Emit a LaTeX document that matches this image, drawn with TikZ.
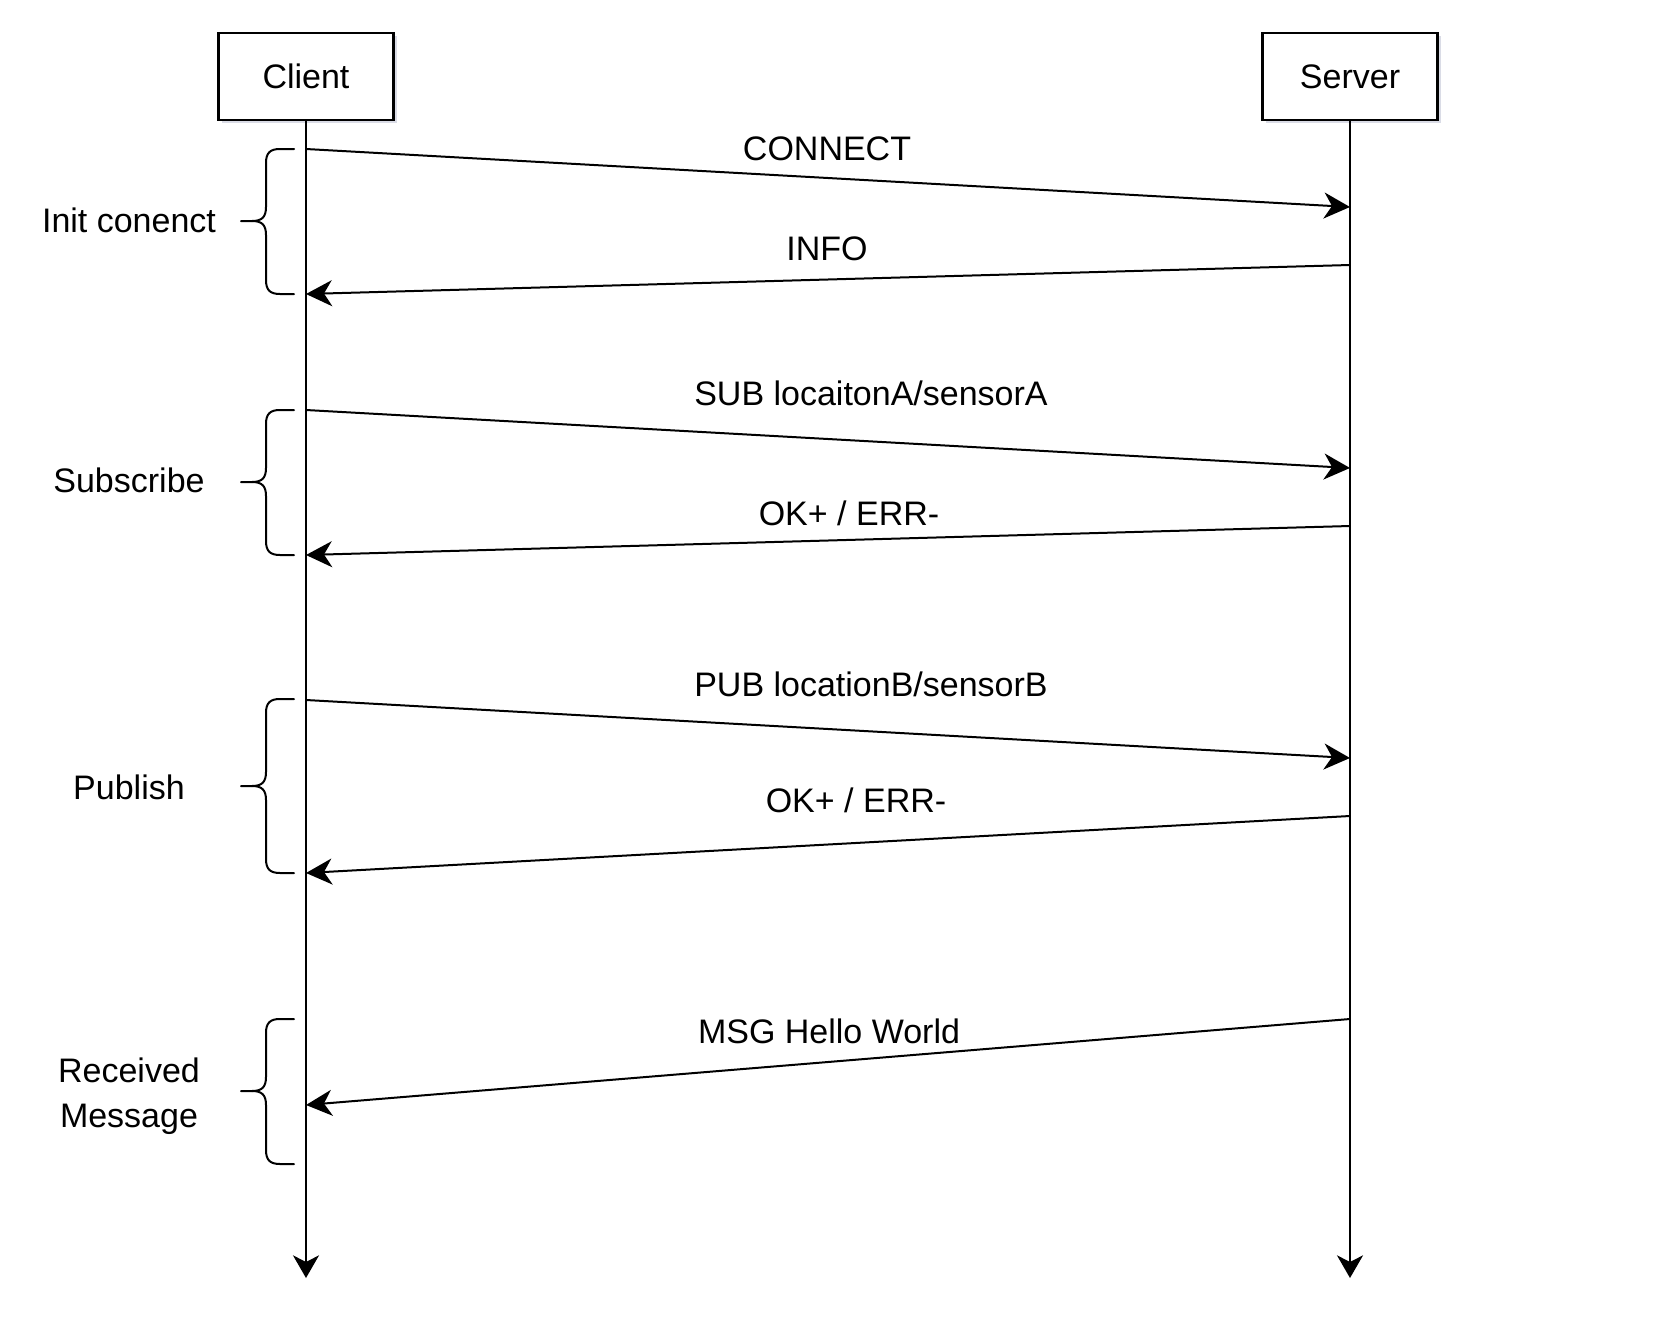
\documentclass[tikz,border=0pt]{standalone}
\usepackage{fontspec}
\setmainfont{Liberation Sans}
\usetikzlibrary{arrows.meta,shadows}
\definecolor{shadowc}{RGB}{150,155,185}
\newcommand\mybrace[3]{%
  \draw[bracestyle] (294,#1) -- (280,#1) .. controls (270,#1) and (266,#1+4) .. (266,#1+14)
    -- (266,#2-14) .. controls (266,#2-4) and (262,#2) .. (252,#2) -- (241,#2);
  \draw[bracestyle] (252,#2) .. controls (262,#2) and (266,#2+4) .. (266,#2+14)
    -- (266,#3-14) .. controls (266,#3-4) and (270,#3) .. (280,#3) -- (294,#3);
}
\begin{document}
\begin{tikzpicture}[x=0.75pt,y=-0.75pt,
  txt/.style={font=\fontsize{25.5pt}{33pt}\selectfont, inner sep=0pt},
  lbl/.style={txt, anchor=base},
  lifebox/.style={txt, draw, line width=1.9pt, fill=white, minimum width=131.25pt, minimum height=65.25pt,
     drop shadow={shadow xshift=2.5pt, shadow yshift=-2.5pt, fill=shadowc, opacity=0.35}},
  lifeline/.style={line width=1.5pt, -{Stealth[length=17pt,width=19.5pt,inset=5pt]}},
  msgarrow/.style={line width=1.5pt, -{Stealth[length=19.5pt,width=19.5pt,inset=6pt]}},
  bracestyle/.style={line width=1.5pt, line cap=round, line join=round}]
\useasboundingbox (0,0) rectangle (1660,1328);
\fill[white] (0,0) rectangle (1660,1328);

% lifelines
\node[lifebox] (client) at (306,76.5) {Client};
\node[lifebox] (server) at (1350,76.5) {Server};
\coordinate (cend) at (306,1278);
\coordinate (send) at (1350,1278);
\draw[lifeline] (client.south) -- (cend);
\draw[lifeline] (server.south) -- (send);

% message end points
\coordinate (c1) at (306,149);  \coordinate (s1) at (1350,207);
\coordinate (s2) at (1350,265); \coordinate (c2) at (306,294);
\coordinate (c3) at (306,410);  \coordinate (s3) at (1350,468);
\coordinate (s4) at (1350,526); \coordinate (c4) at (306,555);
\coordinate (c5) at (306,700);  \coordinate (s5) at (1350,758);
\coordinate (s6) at (1350,816); \coordinate (c6) at (306,873);
\coordinate (s7) at (1350,1019); \coordinate (c7) at (306,1105);

\draw[msgarrow] (c1) -- (s1);
\draw[msgarrow] (s2) -- (c2);
\draw[msgarrow] (c3) -- (s3);
\draw[msgarrow] (s4) -- (c4);
\draw[msgarrow] (c5) -- (s5);
\draw[msgarrow] (s6) -- (c6);
\draw[msgarrow] (s7) -- (c7);

% message labels
\node[lbl] (lconnect) at (827,160) {CONNECT};
\node[lbl] (linfo) at (827,260.5) {INFO};
\node[lbl] (lsub) at (871,405) {SUB locaitonA/sensorA};
\node[lbl] (lok1) at (849,525) {OK+ / ERR-};
\node[lbl] (lpub) at (871,696) {PUB locationB/sensorB};
\node[lbl] (lok2) at (856,812) {OK+ / ERR-};
\node[lbl] (lmsg) at (829,1043) {MSG Hello World};

% braces
\mybrace{149}{221}{294}
\mybrace{410}{482}{555}
\mybrace{699}{786}{873}
\mybrace{1019}{1091}{1164}

% phase labels
\node[lbl] (pinit) at (129,232) {Init conenct};
\node[lbl] (psub) at (129,492.5) {Subscribe};
\node[lbl] (ppub) at (129,799) {Publish};
\node[lbl] (prec1) at (129,1082) {Received};
\node[lbl] (prec2) at (129,1127) {Message};
\end{tikzpicture}
\end{document}
